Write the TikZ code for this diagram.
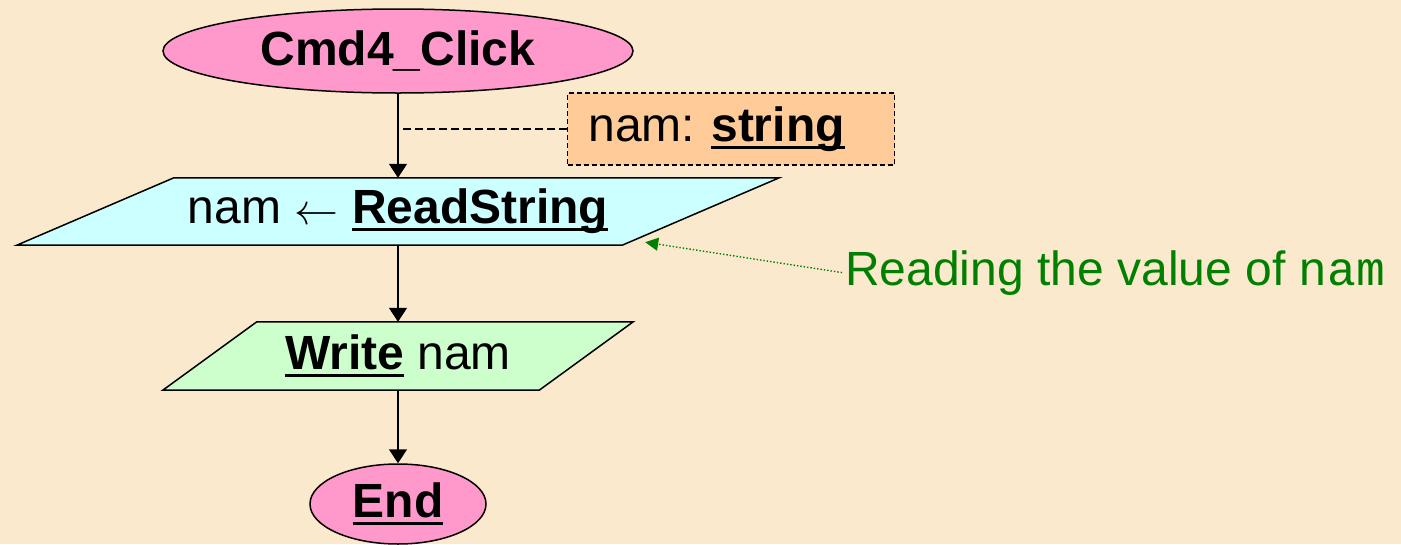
\documentclass[tikz,border=0pt]{standalone}
\usepackage{fontspec}
\setmainfont{Liberation Sans}
\newfontfamily\codefont{Liberation Mono}
\usetikzlibrary{shapes.geometric,arrows.meta,calc}
\frenchspacing

\definecolor{paper}{RGB}{251,233,206}
\definecolor{termfill}{RGB}{255,153,204}
\definecolor{readfill}{RGB}{204,255,255}
\definecolor{writefill}{RGB}{204,255,204}
\definecolor{declfill}{RGB}{255,204,153}
\definecolor{notegreen}{RGB}{0,128,0}

% bold keyword with a heavy underline at a fixed depth
\newcommand\keyword[1]{\setbox0\hbox{\bfseries #1}%
  \rlap{\rule[-7.5pt]{\wd0}{3.2pt}}\box0\relax}
% thin arrow sized to the 48pt text
\newcommand\getsarrow{\raisebox{-1pt}{\resizebox{44pt}{!}{$\leftarrow$}}}

\pgfdeclarelayer{paperlayer}
\pgfdeclarelayer{shapelayer}
\pgfsetlayers{paperlayer,shapelayer,main}

\tikzset{
  base/.style={draw=black, line width=1.5pt, inner sep=0pt,
    font=\fontsize{48}{58}\selectfont},
  terminal/.style={base, ellipse, fill=termfill},
  iotext/.style={inner sep=0pt, font=\fontsize{48}{58}\selectfont},
  declbox/.style={base, line width=1.2pt, dash pattern=on 5pt off 3pt,
    fill=declfill, inner xsep=21pt, text width=285pt, align=left,
    minimum height=72pt},
  flow/.style={line width=1.5pt, -{Triangle[length=14pt,width=18pt]}},
  link/.style={line width=1.3pt, dash pattern=on 8pt off 4pt},
  note/.style={font=\fontsize{48}{58}\selectfont, text=notegreen, inner sep=3pt},
  pointer/.style={notegreen, line width=1.4pt, dotted,
    -{Triangle[length=13pt,width=13pt]}},
}

% slanted input/output box drawn around the body of a node: name, slant, fill
\newcommand\slantbox[3]{%
  \begin{pgfonlayer}{shapelayer}
    \draw[line width=1.5pt, fill=#3]
      ($(#1.south west)+(-#2/2,0)$) -- ($(#1.north west)+(#2/2,0)$)
      -- ($(#1.north east)+(#2/2,0)$) -- ($(#1.south east)+(-#2/2,0)$) -- cycle;
  \end{pgfonlayer}}

\begin{document}
\begin{tikzpicture}[x=1pt, y=-1pt]
  % page and background
  \useasboundingbox (0,0) rectangle (1401,544);
  \begin{pgfonlayer}{paperlayer}
    \fill[paper] (0,0) rectangle (1401,544);
  \end{pgfonlayer}

  % flowchart nodes
  \node[terminal, minimum width=470pt, minimum height=84pt] (start) at (398,51)
    {\textbf{Cmd4\_Click}};
  \node[declbox, anchor=west] (decl) at (567,129)
    {nam: \keyword{string}};
  \node[iotext, minimum width=605pt, minimum height=67pt] (read) at (398,211.5)
    {nam \getsarrow\ \keyword{ReadString}\hspace{8pt}};
  \slantbox{read}{157}{readfill}
  \node[iotext, minimum width=376pt, minimum height=68pt] (write) at (398,356)
    {\keyword{Write} nam\hspace{33pt}};
  \slantbox{write}{94}{writefill}
  \node[terminal, minimum width=176pt, minimum height=80pt] (end) at (398,504)
    {\keyword{End}};

  % annotation
  \node[note, anchor=base west] (remark) at (842,285)
    {Reading the value of {\codefont nam}};
  \coordinate (tip) at ($(read.south east)+(-157/2,0)+(23,-3)$);

  % connectors
  \draw[flow] (start.south) -- (start.south |- read.north);
  \draw[link] (decl.west) -- (decl.west -| start.south);
  \draw[flow] (read.south) -- (write.north);
  \draw[flow] (write.south) -- (end.north);
  \draw[pointer] (remark.west) -- (tip);
\end{tikzpicture}
\end{document}
